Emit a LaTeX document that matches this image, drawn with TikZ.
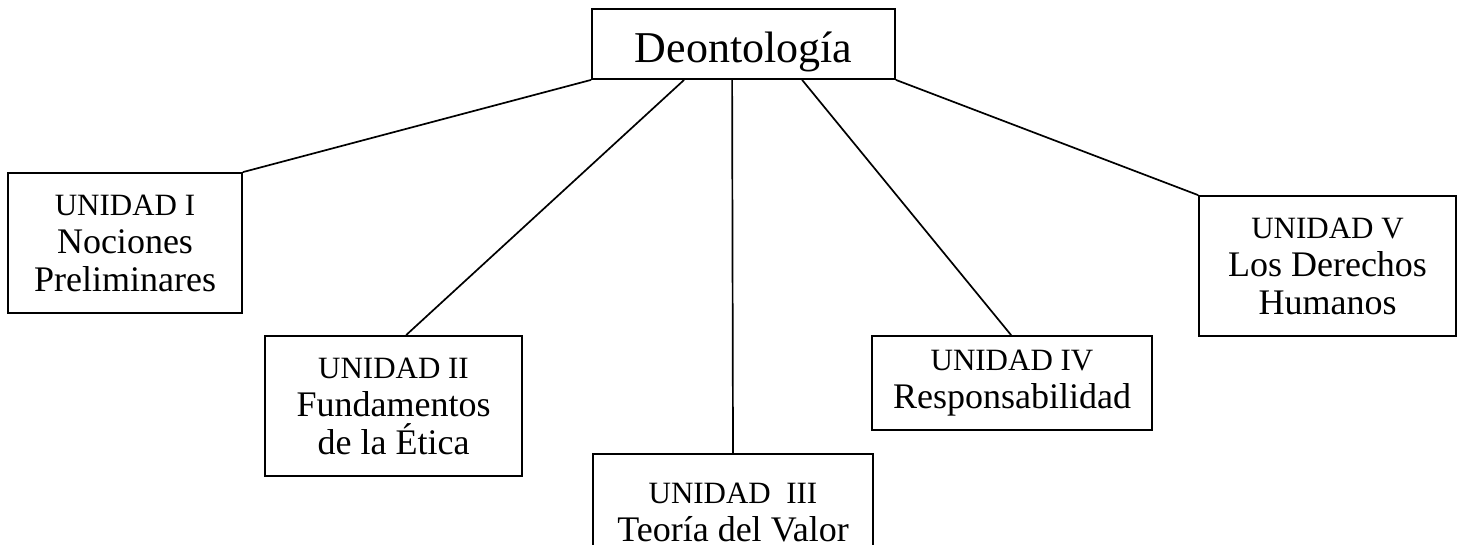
\documentclass[tikz,border=0pt]{standalone}
\usepackage{fontspec}
\setmainfont{Liberation Serif}
\begin{document}
\begin{tikzpicture}[x=1pt,y=-1pt,
  box/.style={draw, line width=1.8pt, inner sep=0pt, align=center,
    font=\fontsize{36}{38}\selectfont},
  conn/.style={line width=1.7pt}]
\clip (0,0) rectangle (1466,544);
\fill[white] (0,0) rectangle (1466,544);
\newcommand{\unid}[1]{{\fontsize{31}{38}\selectfont #1}}
\node[box, minimum width=303pt, minimum height=70pt, text height=44pt, text depth=8pt, font=\fontsize{44}{44}\selectfont] (top) at (743.5,44) {Deontología};
\node[box, minimum width=234pt, minimum height=140pt] (u1) at (125,243) {\unid{UNIDAD I}\\Nociones\\Preliminares};
\node[box, minimum width=257pt, minimum height=140pt] (u2) at (393.5,406) {\unid{UNIDAD II}\\Fundamentos\\de la Ética};
\node[box, minimum width=280pt, minimum height=140pt, anchor=north] (u3) at (733,453) {};
\node[font=\fontsize{36}{38}\selectfont, align=center, anchor=base, inner sep=0pt] (u3t) at (733,541) {\unid{UNIDAD\ \ III}\\Teoría del Valor};
\node[box, minimum width=280pt, minimum height=94pt] (u4) at (1012,383) {\unid{UNIDAD IV}\\Responsabilidad};
\node[box, minimum width=257pt, minimum height=140pt] (u5) at (1327.5,266) {\unid{UNIDAD V}\\Los Derechos\\Humanos};
\draw[conn] (top.south west) -- (u1.north east);
\draw[conn] ([xshift=93pt]top.south west) -- ([xshift=142pt]u2.north west);
\draw[conn] ([xshift=141pt]top.south west) -- (u3.north);
\draw[conn] ([xshift=211pt]top.south west) -- ([xshift=140pt]u4.north west);
\draw[conn] (top.south east) -- (u5.north west);
\end{tikzpicture}
\end{document}
